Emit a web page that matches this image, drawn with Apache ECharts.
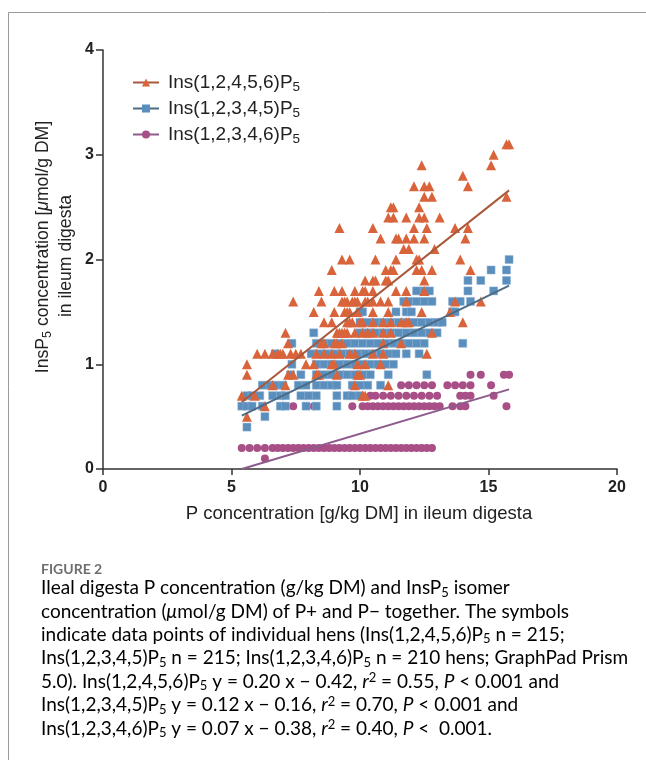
<!DOCTYPE html>
<html>
<head>
<meta charset="utf-8">
<script src="https://cdn.jsdelivr.net/npm/echarts@6/dist/echarts.min.js"></script>
<style>
html,body{margin:0;padding:0;background:#fff;}
#c{width:646px;height:760px;}
</style>
</head>
<body>
<div id="c"></div>
<script>
// ---- data ----
const seriesNames = ['Ins(1,2,4,5,6)P5', 'Ins(1,2,3,4,5)P5', 'Ins(1,2,3,4,6)P5'];
const xTicks = [0, 5, 10, 15, 20];
const yTicks = [0, 1, 2, 3, 4];

// rows: [y, [x values]]
const rows12456 = [
  [3.1, [15.7, 15.8]],
  [3.0, [15.2]],
  [2.9, [12.4, 15.1]],
  [2.8, [14.0]],
  [2.7, [12.1, 12.5, 12.7, 14.2]],
  [2.6, [12.5, 12.8, 15.7]],
  [2.5, [11.2, 11.3, 12.3]],
  [2.4, [11.1, 11.3, 11.8, 12.3, 12.5, 13.1]],
  [2.3, [9.2, 10.5, 12.1, 12.6, 13.7, 14.2]],
  [2.2, [10.8, 11.4, 11.5, 11.8, 12.1, 12.5, 14.1]],
  [2.1, [11.7, 11.9, 12.9]],
  [2.0, [9.3, 9.6, 10.6, 11.4, 12.2, 12.3, 13.9]],
  [1.9, [8.9, 11.0, 11.2, 11.3, 12.2, 12.4, 12.8, 14.3]],
  [1.8, [10.2, 10.5, 10.6, 11.0, 11.1, 12.5]],
  [1.7, [8.4, 9.0, 9.3, 9.8, 10.1, 10.2, 10.5, 11.4, 11.8, 12.5]],
  [1.6, [7.4, 8.5, 9.3, 9.4, 9.5, 9.7, 9.8, 9.9, 10.2, 10.3, 10.5, 10.8, 11.1, 11.8, 13.7, 14.7]],
  [1.5, [8.2, 9.0, 9.4, 9.5, 9.6, 9.9, 10.5, 11.1, 12.4, 13.5]],
  [1.4, [8.6, 8.9, 9.5, 9.6, 9.7, 10.0, 10.1, 10.5, 10.9, 11.2, 11.6, 11.8, 11.9, 14.0]],
  [1.3, [7.1, 9.1, 9.2, 9.3, 9.4, 9.5, 9.8, 10.1, 10.3, 10.5, 10.9, 11.2, 12.8]],
  [1.2, [7.2, 8.5, 8.6, 9.0, 9.1, 9.3, 10.9, 11.6]],
  [1.1, [6.0, 6.3, 6.6, 6.8, 6.9, 7.0, 7.3, 7.5, 7.7, 8.3, 8.6, 8.9, 9.2, 9.6, 9.8, 10.5, 10.9, 12.6]],
  [1.0, [5.6, 7.9, 8.2, 8.9, 9.0, 9.9, 10.2, 10.8]],
  [0.9, [5.6, 7.2, 7.4, 8.3, 8.4, 9.1, 9.9, 10.0]],
  [0.8, [6.6, 7.1, 9.8, 11.1]],
  [0.7, [5.4, 5.9, 10.1, 10.2]],
  [0.6, [6.3]],
  [0.5, [5.6]]
];
const rows12345 = [
  [2.0, [15.8]],
  [1.9, [15.1, 15.7]],
  [1.8, [14.2, 14.7, 15.7]],
  [1.7, [12.2, 12.5, 12.7, 14.2, 15.2]],
  [1.6, [11.7, 11.9, 12.2, 12.5, 12.8, 13.6, 13.9, 14.3]],
  [1.5, [10.0, 10.1, 11.4, 11.8, 12.0, 13.6, 13.7]],
  [1.4, [10.0, 10.3, 10.6, 10.9, 11.2, 11.5, 11.8, 12.1, 12.4, 12.7, 13.0, 13.2]],
  [1.3, [8.2, 10.0, 10.3, 10.6, 10.9, 11.2, 11.5, 11.8, 12.1, 12.4, 12.7, 13.0]],
  [1.2, [7.35, 8.3, 8.6, 8.9, 9.2, 9.5, 9.8, 10.1, 10.4, 10.7, 11.0, 11.3, 11.6, 11.9, 12.2, 12.5, 14.0]],
  [1.1, [6.7, 8.1, 8.4, 8.7, 9.0, 9.3, 9.6, 9.9, 10.2, 10.5, 10.8, 11.1, 11.4, 11.8, 12.3]],
  [1.0, [7.35, 8.3, 8.6, 8.9, 9.2, 9.5, 9.8, 10.1, 10.4, 10.7, 11.0, 11.3]],
  [0.9, [7.3, 7.7, 8.3, 8.6, 8.9, 9.2, 9.5, 9.8, 10.1, 10.4, 11.1, 12.6]],
  [0.8, [6.2, 6.5, 6.7, 7.0, 7.6, 7.9, 8.3, 8.6, 8.9, 9.1, 9.7, 10.0, 10.3, 10.8]],
  [0.7, [5.6, 5.8, 6.1, 6.6, 6.9, 7.1, 7.7, 8.0, 8.3, 9.1, 9.5, 9.7, 10.0]],
  [0.6, [5.4, 5.6, 5.8, 6.2, 6.9, 7.1, 7.9, 8.3, 9.1]],
  [0.5, [6.3]],
  [0.4, [5.6]]
];
const rows12346 = [
  [0.9, [14.3, 14.7, 15.6, 15.8]],
  [0.8, [11.6, 11.9, 12.2, 12.5, 12.8, 13.4, 13.7, 14.0, 14.3, 15.1]],
  [0.7, [10.4, 10.6, 10.9, 11.2, 11.5, 11.8, 12.1, 12.4, 12.7, 13.0, 13.9, 14.1, 14.3, 15.2]],
  [0.6, [7.4, 8.2, 9.7, 10.1, 10.3, 10.5, 10.7, 10.9, 11.1, 11.3, 11.5, 11.7, 11.9, 12.1, 12.3, 12.5, 12.7, 12.9, 13.1, 13.6, 13.9, 14.1, 15.7]],
  [0.2, [5.4, 5.7, 6.0, 6.3, 6.6, 6.8, 7.0, 7.2, 7.4, 7.6, 7.8, 8.0, 8.2, 8.4, 8.6, 8.8, 9.0, 9.2, 9.4, 9.6, 9.8, 10.0, 10.2, 10.4, 10.6, 10.8, 11.0, 11.2, 11.4, 11.6, 11.8, 12.0, 12.2, 12.4, 12.6, 12.8]],
  [0.1, [6.3]]
];
// fitted regression lines (end points as drawn)
const fit12456 = [[5.4, 0.64], [15.8, 2.66]];
const fit12345 = [[5.4, 0.51], [15.8, 1.75]];
const fit12346 = [[5.4, 0.0], [15.8, 0.76]];

function flatten(rows) {
  const out = [];
  rows.forEach(r => r[1].forEach(x => out.push([x, r[0]])));
  return out;
}

// ---- styles ----
const colTri = '#d9643b', colTriLine = '#a9593b';
const colSq = '#5a8ebd', colSqLine = '#4e6b84';
const colCi = '#a84f87', colCiLine = '#8d5b8c';
const fontMain = 'Arial';
const fontCap = 'Lato';
const capSize = 19;
const capColor = '#555';

const chart = echarts.init(document.getElementById('c'), null, {renderer: 'canvas'});

const subRich = {
  a: {fontSize: 19, fontFamily: fontMain, color: '#222'},
  s: {fontSize: 13.5, fontFamily: fontMain, color: '#222', padding: [9, 0, 0, 0]}
};

function legendLabel(name) {
  return '{a|' + name.slice(0, -1) + '}{s|' + name.slice(-1) + '}';
}

const capRich = {
  t: {fontSize: capSize, fontFamily: fontCap, color: capColor, lineHeight: 23},
  i: {fontSize: capSize, fontFamily: fontCap, color: capColor, fontStyle: 'italic', lineHeight: 23},
  s: {fontSize: 13, fontFamily: fontCap, color: capColor, padding: [9, 0, 0, 0], lineHeight: 23},
  p: {fontSize: 13, fontFamily: fontCap, color: capColor, padding: [0, 0, 7, 0], lineHeight: 23}
};
const captionLines = [
  '{t|Ileal digesta P concentration (g/kg DM) and InsP}{s|5}{t| isomer}',
  '{t|concentration (}{i|μ}{t|mol/g DM) of P+ and P− together. The symbols}',
  '{t|indicate data points of individual hens (Ins(1,2,4,5,6)P}{s|5}{t| n = 215;}',
  '{t|Ins(1,2,3,4,5)P}{s|5}{t| n = 215; Ins(1,2,3,4,6)P}{s|5}{t| n = 210 hens; GraphPad Prism}',
  '{t|5.0). Ins(1,2,4,5,6)P}{s|5}{t| y = 0.20 x − 0.42, }{i|r}{p|2}{t| = 0.55, }{i|P}{t| < 0.001 and}',
  '{t|Ins(1,2,3,4,5)P}{s|5}{t| y = 0.12 x − 0.16, }{i|r}{p|2}{t| = 0.70, }{i|P}{t| < 0.001 and}',
  '{t|Ins(1,2,3,4,6)P}{s|5}{t| y = 0.07 x − 0.38, }{i|r}{p|2}{t| = 0.40, }{i|P}{t| <  0.001.}'
];

const graphics = [
  {type: 'line', shape: {x1: 8.5, y1: 12.5, x2: 646, y2: 12.5}, style: {stroke: '#9a9a9a', lineWidth: 1}, silent: true},
  {type: 'line', shape: {x1: 8.5, y1: 12.5, x2: 8.5, y2: 760}, style: {stroke: '#9a9a9a', lineWidth: 1}, silent: true},
  {type: 'text', x: 359, y: 514, style: {text: 'P concentration [g/kg DM] in ileum digesta', font: '18.5px ' + fontMain, fill: '#222', align: 'center', verticalAlign: 'middle'}},
  {type: 'text', x: 43, y: 247, rotation: Math.PI / 2, style: {
    text: '{a|InsP}{s|5}{a| concentration [}{i|μ}{a|mol/g DM]}',
    align: 'center', verticalAlign: 'middle',
    rich: {
      a: {fontSize: 17.6, fontFamily: fontMain, fill: '#222'},
      i: {fontSize: 17.6, fontFamily: fontMain, fontStyle: 'italic', fill: '#222'},
      s: {fontSize: 12.5, fontFamily: fontMain, fill: '#222', padding: [9, 0, 0, 0]}
    }
  }},
  {type: 'text', x: 66, y: 256, rotation: Math.PI / 2, style: {text: 'in ileum digesta', font: '17.6px ' + fontMain, fill: '#222', align: 'center', verticalAlign: 'middle'}},
  {type: 'text', x: 41, y: 569, style: {text: 'FIGURE 2', font: 'bold 14px ' + fontCap, fill: '#6e6e6e', verticalAlign: 'middle'}}
];
captionLines.forEach((ln, k) => {
  graphics.push({type: 'text', x: 41, y: 588 + k * 23.4, style: {text: ln, rich: capRich, verticalAlign: 'middle'}});
});

const option = {
  animation: false,
  backgroundColor: '#fff',
  grid: {left: 103, right: 29, top: 50, bottom: 291, containLabel: false},
  xAxis: {
    type: 'value', min: 0, max: 20, interval: 5,
    splitLine: {show: false},
    axisLine: {onZero: false, lineStyle: {color: '#333', width: 1.5}},
    axisTick: {show: true, length: 6, lineStyle: {color: '#333', width: 1.5}},
    axisLabel: {margin: 11, fontFamily: fontMain, fontWeight: 'bold', fontSize: 16, color: '#222',
      formatter: v => xTicks.indexOf(v) >= 0 ? String(v) : ''}
  },
  yAxis: {
    type: 'value', min: 0, max: 4, interval: 1,
    splitLine: {show: false},
    axisLine: {onZero: false, lineStyle: {color: '#333', width: 1.5}},
    axisTick: {show: true, length: 7, lineStyle: {color: '#333', width: 1.5}},
    axisLabel: {margin: 9, fontFamily: fontMain, fontWeight: 'bold', fontSize: 16, color: '#222',
      formatter: v => yTicks.indexOf(v) >= 0 ? String(v) : ''}
  },
  legend: {
    orient: 'vertical', left: 127, top: 68, itemGap: 5,
    itemWidth: 26, itemHeight: 10,
    data: seriesNames,
    formatter: legendLabel,
    textStyle: {rich: subRich, padding: [0, 0, 0, 4]},
    selectedMode: false
  },
  series: [
    {name: seriesNames[0], type: 'line', data: fit12456, symbol: 'triangle', symbolSize: 9, showSymbol: false,
      itemStyle: {color: colTri}, lineStyle: {color: colTriLine, width: 2}, z: 10, silent: true},
    {name: seriesNames[1], type: 'line', data: fit12345, symbol: 'rect', symbolSize: 8, showSymbol: false,
      itemStyle: {color: colSq}, lineStyle: {color: colSqLine, width: 2}, z: 10, silent: true},
    {name: seriesNames[2], type: 'line', data: fit12346, symbol: 'circle', symbolSize: 8, showSymbol: false,
      itemStyle: {color: colCi}, lineStyle: {color: colCiLine, width: 2}, z: 10, silent: true},
    {name: seriesNames[2], type: 'scatter', data: flatten(rows12346), symbol: 'circle', symbolSize: 8,
      itemStyle: {color: colCi, opacity: 1}, z: 2},
    {name: seriesNames[1], type: 'scatter', data: flatten(rows12345), symbol: 'rect', symbolSize: 8,
      itemStyle: {color: colSq, opacity: 1, borderColor: '#8fb3d4', borderWidth: 0.5}, z: 3},
    {name: seriesNames[0], type: 'scatter', data: flatten(rows12456), symbol: 'triangle', symbolSize: 10,
      itemStyle: {color: colTri, opacity: 1}, z: 4}
  ],
  graphic: graphics
};
chart.setOption(option);
</script>
</body>
</html>
